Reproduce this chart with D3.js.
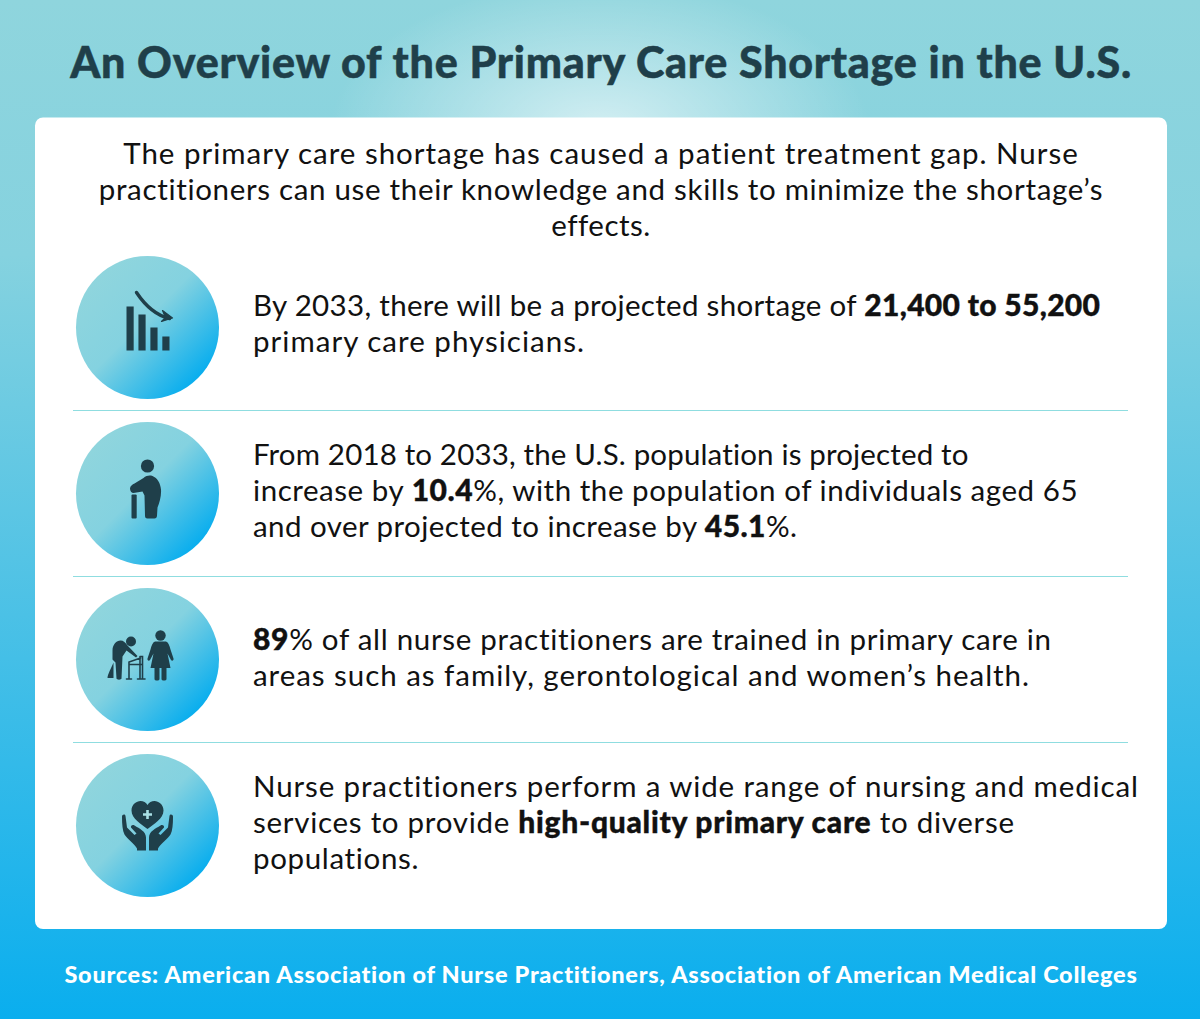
<!DOCTYPE html>
<html>
<head>
<meta charset="utf-8">
<script src="https://cdn.jsdelivr.net/npm/d3@7"></script>
<style>
  html, body { margin: 0; background: #fff; }
  svg { display: block; }
  text { font-family: Lato, "Noto Sans", sans-serif; }
</style>
</head>
<body>
<svg id="chart" width="1200" height="1019"></svg>
<script>
const titleText = "An Overview of the Primary Care Shortage in the U.S.";
const footerText = "Sources: American Association of Nurse Practitioners, Association of American Medical Colleges";

const introLines = [
  "The primary care shortage has caused a patient treatment gap. Nurse",
  "practitioners can use their knowledge and skills to minimize the shortage\u2019s",
  "effects."
];
const introWidths = [955, 1005, 98];

// each line is a list of [text, bold]
const rowLines = [
  [
    [["By 2033, there will be a projected shortage of ", false], ["21,400 to 55,200", true]],
    [["primary care physicians.", false]]
  ],
  [
    [["From 2018 to 2033, the U.S. population is projected to", false]],
    [["increase by ", false], ["10.4", true], ["%, with the population of individuals aged 65", false]],
    [["and over projected to increase by ", false], ["45.1", true], ["%.", false]]
  ],
  [
    [["89", true], ["% of all nurse practitioners are trained in primary care in", false]],
    [["areas such as family, gerontological and women\u2019s health.", false]]
  ],
  [
    [["Nurse practitioners perform a wide range of nursing and medical", false]],
    [["services to provide ", false], ["high-quality primary care", true], [" to diverse", false]],
    [["populations.", false]]
  ]
];
const rowWidths = [[847, 331], [716, 825, 544], [799, 776], [886, 761, 166]];
const rowFirstBaseline = [316, 465, 650, 797];
const rowCenters = [327.5, 493.5, 659.5, 825.5];
const separators = [410, 576, 742];

const barHeights = [44, 36, 23, 14];

const dark = "#1f3f4a";
const svg = d3.select("#chart");
const defs = svg.append("defs");

const bgGrad = defs.append("linearGradient").attr("id", "bg")
  .attr("x1", 0).attr("y1", 0).attr("x2", 0).attr("y2", 1);
bgGrad.append("stop").attr("offset", "0%").attr("stop-color", "#8fd5dd");
bgGrad.append("stop").attr("offset", "25%").attr("stop-color", "#85d2df");
bgGrad.append("stop").attr("offset", "100%").attr("stop-color", "#0aaeee");

const glow = defs.append("radialGradient").attr("id", "glow");
glow.append("stop").attr("offset", "0%").attr("stop-color", "#fff").attr("stop-opacity", 0.62);
glow.append("stop").attr("offset", "100%").attr("stop-color", "#fff").attr("stop-opacity", 0);

const circleGrad = defs.append("linearGradient").attr("id", "disc")
  .attr("x1", "15%").attr("y1", "15%").attr("x2", "85%").attr("y2", "85%");
circleGrad.append("stop").attr("offset", "0%").attr("stop-color", "#8fd5dd");
circleGrad.append("stop").attr("offset", "45%").attr("stop-color", "#84d2e0");
circleGrad.append("stop").attr("offset", "100%").attr("stop-color", "#0aaeee");

svg.append("rect").attr("width", 1200).attr("height", 1019).attr("fill", "url(#bg)");
svg.append("ellipse").attr("cx", 600).attr("cy", 130)
  .attr("rx", 270).attr("ry", 150).attr("fill", "url(#glow)");
svg.append("rect").attr("x", 35).attr("y", 117.5).attr("width", 1132).attr("height", 811.5)
  .attr("rx", 8).attr("fill", "#fff");

// squeeze or stretch a line so it fills the width seen in the picture
function fit(sel, target) {
  sel.each(function () {
    const natural = this.getComputedTextLength();
    const n = this.textContent.length;
    d3.select(this).style("letter-spacing", `${(target - natural) / (n - 1)}px`);
  });
}

svg.append("text").attr("x", 601).attr("y", 78).attr("text-anchor", "middle")
  .attr("font-size", 43).attr("font-weight", 900).attr("fill", dark)
  .attr("stroke", dark).attr("stroke-width", 0.5)
  .text(titleText).call(fit, 1061);

svg.selectAll(".intro").data(introLines).enter().append("text")
  .attr("class", "intro")
  .attr("x", 601).attr("y", (d, i) => 164 + i * 36)
  .attr("text-anchor", "middle").attr("font-size", 29.500).attr("fill", "#111")
  .text(d => d)
  .each(function (d, i) { d3.select(this).call(fit, introWidths[i]); });

rowLines.forEach((lines, r) => {
  lines.forEach((segs, i) => {
    const t = svg.append("text").attr("x", 253).attr("y", rowFirstBaseline[r] + i * 36)
      .attr("font-size", 29.500).attr("fill", "#111");
    t.selectAll("tspan").data(segs).enter().append("tspan")
      .attr("font-weight", d => d[1] ? 900 : 400)
      .attr("font-size", d => d[1] ? 30 : null)
      .attr("stroke", d => d[1] ? "#111" : null)
      .attr("stroke-width", d => d[1] ? 0.4 : null)
      .text(d => d[0]);
    t.call(fit, rowWidths[r][i]);
  });
});

svg.selectAll(".sep").data(separators).enter().append("line")
  .attr("class", "sep")
  .attr("x1", 73).attr("x2", 1128).attr("y1", d => d + 0.5).attr("y2", d => d + 0.5)
  .attr("stroke", "#8fdde0").attr("stroke-width", 1);

const icons = svg.selectAll(".icon").data(rowCenters).enter().append("g")
  .attr("class", "icon")
  .attr("transform", d => `translate(147.5,${d})`);
icons.append("circle").attr("r", 71.5).attr("fill", "url(#disc)");

// falling bars icon
const barG = d3.select(icons.nodes()[0]);
const barX = d3.scaleBand().domain(d3.range(barHeights.length)).range([-21, 22]).paddingInner(0.4);
const barY = d3.scaleLinear().domain([0, 44]).range([0, 44]);
barG.selectAll("rect").data(barHeights).enter().append("rect")
  .attr("x", (d, i) => barX(i)).attr("width", barX.bandwidth())
  .attr("y", d => 23 - barY(d)).attr("height", d => barY(d)).attr("fill", dark);
barG.append("path").attr("d", "M-11,-35 C-3,-23 9,-12 22,-9")
  .attr("fill", "none").attr("stroke", dark).attr("stroke-width", 3.4).attr("stroke-linecap", "round");
barG.append("path").attr("d", "M15,-17 L25,-9.5 L14,-6 L18,-10Z")
  .attr("fill", dark).attr("stroke", dark).attr("stroke-width", 1.2).attr("stroke-linejoin", "round");

// man with a cane
const manG = d3.select(icons.nodes()[1]);
manG.append("circle").attr("cy", -27.5).attr("r", 6.6).attr("fill", dark);
manG.append("path").attr("fill", dark)
  .attr("d", "M-17.5,-5 C-17.5,-7.5 -15,-9 -13,-10 L-4,-15.5 C-1,-18 2,-18.5 5,-17.5 C10,-15.5 13,-10 13.5,-4 C14,2 12,9 10,14 L9.5,22 C9.5,24 8.5,25 7,25 L0,25 C-2,25 -2.5,24 -2.5,22 L-3,2 L-5,-2 L-14,-0.5 C-16,-0.5 -17.5,-2.5 -17.5,-5Z");
manG.append("rect").attr("x", -16).attr("y", 1).attr("width", 5.2).attr("height", 24)
  .attr("rx", 1).attr("fill", dark);

// stooped person with a walker next to a woman
const careG = d3.select(icons.nodes()[2]);
careG.append("circle").attr("cx", -16.5).attr("cy", -18).attr("r", 5).attr("fill", dark);
careG.append("path").attr("fill", dark)
  .attr("d", "M-35,-9 C-35,-15 -31,-19 -27,-19 C-24,-19 -22,-17 -20,-14 L-10,-3.500 L-11.500,-2 L-21,-9 L-25,-3 L-26,19 C-26,20.500 -31,20.500 -31,19 L-32,3 L-35,0Z");
careG.append("path").attr("fill", dark)
  .attr("d", "M-34,3 L-34,18.500 L-40,18.500 C-40,15 -36,8 -34,3Z");
careG.append("path").attr("fill", "none").attr("stroke", dark).attr("stroke-width", 1.6).attr("stroke-linecap", "round")
  .attr("d", "M-18.500,19.500 L-18.500,2.500 L-7,-1.500 M-7.500,-3 L-5,-3 L-5,19.500 M-7.500,-3 L-7.500,19.500 M-18.500,5 L-6,5 M-21,19.500 L-16,19.500 M-10,19.500 L-2.500,19.500");
careG.append("circle").attr("cx", 13).attr("cy", -24).attr("r", 5.2).attr("fill", dark);
careG.append("path").attr("fill", dark)
  .attr("d", "M7.500,-18 L18.500,-18 C21,-17 22,-14 23,-10 L26,-1 C26.500,1 24.500,2 23.500,0.500 L20,-6 L23,8.500 L3,8.500 L6,-6 L2.500,0.500 C1.500,2 -0.500,1 0,-1 L3,-10 C4,-14 5,-17 7.500,-18Z");
careG.append("path").attr("fill", dark)
  .attr("d", "M7,8 L12,8 L12,19.500 C12,21.500 7,21.500 7,19.500Z M14,8 L19,8 L19,19.500 C19,21.500 14,21.500 14,19.500Z");

// hands holding a heart
const heartG = d3.select(icons.nodes()[3]);
heartG.append("path").attr("fill", dark)
  .attr("d", "M0,3.500 C-6,-1 -16,-7 -16,-15 C-16,-21 -11,-24.500 -7,-24.500 C-4,-24.500 -1.500,-23 0,-20.500 C1.500,-23 4,-24.500 7,-24.500 C11,-24.500 16,-21 16,-15 C16,-7 6,-1 0,3.500Z");
heartG.append("path").attr("fill", "none").attr("stroke", "#a9e1e6").attr("stroke-width", 2.6)
  .attr("d", "M-4.500,-11 L4.500,-11 M0,-15.500 L0,-6.500");
[1, -1].forEach(s => {
  heartG.append("g").attr("transform", `scale(${s},1)`).append("path").attr("fill", dark)
    .attr("d", "M-1.500,25 L-10.500,25 L-10.500,23 C-13,18 -20,14 -23,9 C-25,5 -25.500,-1 -25.500,-9 C-25.500,-11 -22.500,-12 -22,-9.500 L-20.500,2 L-13,9.500 L-11,8 L-16.500,2 C-17,0 -15,-1 -13,0 C-8,3 -1.500,6 -1.500,12Z");
});

svg.append("text").attr("x", 601).attr("y", 983).attr("text-anchor", "middle")
  .attr("font-size", 23.500).attr("font-weight", 900).attr("fill", "#fff")
  .text(footerText).call(fit, 1074);
</script>
</body>
</html>
